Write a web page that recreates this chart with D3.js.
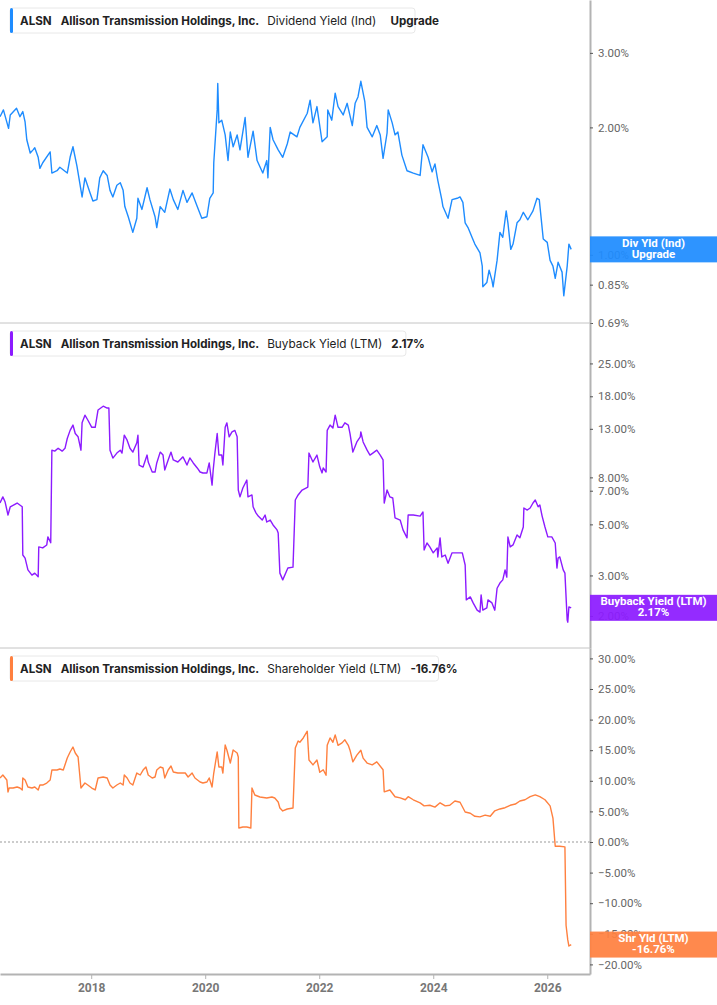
<!DOCTYPE html>
<html>
<head>
<meta charset="utf-8">
<script src="https://cdn.jsdelivr.net/npm/d3@7"></script>
<style>
  body { margin: 0; background: #fff; }
  svg { display: block; font-family: Inter, "Noto Sans", sans-serif; }
</style>
</head>
<body>
<div id="chart"></div>
<script>
// ---- data (date as decimal year, value in %) ----
const ticker = "ALSN";
const company = "Allison Transmission Holdings, Inc.";
const yearTicks = [2018, 2020, 2022, 2024, 2026];
const divTicks = [0.69, 0.85, 1.00, 2.00, 3.00];
const buyTicks = [2, 3, 5, 7, 8, 13, 18, 25];
const shrTicks = [-20, -15, -10, -5, 0, 5, 10, 15, 20, 25, 30];

const divYield = [[2016.40,2.12],[2016.46,2.20],[2016.55,1.99],[2016.58,2.14],[2016.69,2.22],[2016.75,2.12],[2016.80,2.18],[2016.84,2.06],[2016.87,1.87],[2016.93,1.74],[2016.98,1.77],[2017.01,1.79],[2017.07,1.70],[2017.10,1.60],[2017.15,1.65],[2017.28,1.75],[2017.31,1.56],[2017.40,1.58],[2017.45,1.61],[2017.58,1.56],[2017.63,1.70],[2017.68,1.80],[2017.75,1.62],[2017.84,1.37],[2017.89,1.52],[2017.98,1.40],[2018.03,1.34],[2018.10,1.35],[2018.15,1.52],[2018.21,1.58],[2018.28,1.54],[2018.33,1.42],[2018.38,1.37],[2018.45,1.46],[2018.51,1.48],[2018.56,1.42],[2018.59,1.30],[2018.65,1.23],[2018.73,1.13],[2018.80,1.22],[2018.82,1.36],[2018.89,1.28],[2018.98,1.44],[2019.03,1.35],[2019.12,1.23],[2019.15,1.16],[2019.21,1.30],[2019.29,1.26],[2019.38,1.43],[2019.44,1.35],[2019.52,1.28],[2019.61,1.42],[2019.68,1.33],[2019.77,1.40],[2019.86,1.30],[2019.94,1.22],[2020.03,1.23],[2020.08,1.36],[2020.14,1.40],[2020.15,1.65],[2020.21,2.20],[2020.22,2.54],[2020.24,2.05],[2020.29,2.08],[2020.35,1.92],[2020.40,1.67],[2020.44,1.95],[2020.49,1.80],[2020.56,1.92],[2020.61,1.77],[2020.70,2.11],[2020.75,1.70],[2020.84,1.96],[2020.91,1.67],[2021.01,1.56],[2021.08,1.67],[2021.10,1.52],[2021.14,2.00],[2021.19,1.87],[2021.28,1.77],[2021.36,1.70],[2021.44,1.83],[2021.49,1.95],[2021.61,1.90],[2021.66,2.00],[2021.79,2.16],[2021.84,2.32],[2021.89,2.05],[2021.96,2.24],[2022.05,1.85],[2022.14,1.90],[2022.15,2.20],[2022.22,2.08],[2022.28,2.41],[2022.33,2.24],[2022.42,2.14],[2022.49,2.28],[2022.58,2.02],[2022.63,2.28],[2022.68,2.36],[2022.73,2.57],[2022.80,2.30],[2022.84,2.00],[2022.93,1.90],[2023.01,2.02],[2023.07,1.92],[2023.12,1.69],[2023.19,1.94],[2023.21,2.20],[2023.28,2.05],[2023.33,1.92],[2023.38,1.95],[2023.45,1.72],[2023.54,1.58],[2023.65,1.56],[2023.77,1.54],[2023.82,1.82],[2023.91,1.70],[2023.98,1.57],[2024.03,1.64],[2024.08,1.50],[2024.15,1.35],[2024.17,1.30],[2024.26,1.22],[2024.33,1.35],[2024.42,1.36],[2024.47,1.37],[2024.52,1.33],[2024.56,1.19],[2024.61,1.16],[2024.68,1.10],[2024.73,1.06],[2024.82,1.01],[2024.86,0.94],[2024.87,0.84],[2024.94,0.86],[2024.98,0.92],[2025.03,0.87],[2025.05,0.84],[2025.12,0.97],[2025.17,1.13],[2025.22,1.10],[2025.28,1.27],[2025.31,1.19],[2025.36,1.03],[2025.40,1.06],[2025.47,1.19],[2025.52,1.21],[2025.58,1.26],[2025.66,1.21],[2025.75,1.27],[2025.82,1.36],[2025.86,1.35],[2025.93,1.09],[2026.00,1.07],[2026.05,0.97],[2026.10,0.94],[2026.14,0.88],[2026.19,0.96],[2026.26,0.91],[2026.29,0.80],[2026.35,0.94],[2026.38,1.06],[2026.42,1.03]];

const buybackYield = [[2016.40,6.19],[2016.45,6.58],[2016.49,6.25],[2016.54,5.49],[2016.58,5.96],[2016.70,6.19],[2016.79,5.96],[2016.80,3.68],[2016.84,3.57],[2016.89,3.17],[2016.96,3.01],[2017.01,3.07],[2017.07,2.96],[2017.08,3.99],[2017.15,3.95],[2017.22,4.07],[2017.24,4.41],[2017.29,4.16],[2017.31,10.5],[2017.36,10.4],[2017.42,10.7],[2017.49,10.4],[2017.54,10.7],[2017.58,11.8],[2017.63,12.8],[2017.68,13.5],[2017.72,12.4],[2017.77,12.0],[2017.82,10.5],[2017.84,13.8],[2017.89,14.9],[2017.94,14.2],[2018.01,13.2],[2018.07,13.2],[2018.12,15.7],[2018.21,16.3],[2018.28,16.0],[2018.31,16.0],[2018.33,10.5],[2018.38,9.70],[2018.45,10.2],[2018.51,10.5],[2018.54,10.2],[2018.58,12.2],[2018.63,11.6],[2018.68,10.7],[2018.73,10.3],[2018.80,11.3],[2018.82,12.2],[2018.84,9.05],[2018.91,8.87],[2018.98,10.0],[2019.00,9.33],[2019.07,8.44],[2019.12,8.44],[2019.15,9.24],[2019.21,10.3],[2019.26,10.0],[2019.29,8.61],[2019.35,9.52],[2019.40,10.3],[2019.44,9.52],[2019.52,9.33],[2019.59,9.72],[2019.61,9.82],[2019.68,9.05],[2019.73,9.72],[2019.79,9.24],[2019.86,8.79],[2019.91,8.44],[2019.96,8.36],[2020.03,8.36],[2020.07,9.24],[2020.12,7.40],[2020.14,8.61],[2020.17,10.2],[2020.21,12.4],[2020.24,10.0],[2020.29,10.0],[2020.31,9.05],[2020.35,13.2],[2020.38,13.8],[2020.42,12.0],[2020.47,12.6],[2020.52,12.8],[2020.56,12.0],[2020.58,7.05],[2020.61,6.58],[2020.66,7.19],[2020.73,7.79],[2020.75,6.58],[2020.82,6.71],[2020.84,5.96],[2020.89,5.61],[2020.93,5.43],[2021.00,5.22],[2021.05,5.49],[2021.08,5.12],[2021.14,5.22],[2021.19,4.97],[2021.26,4.73],[2021.28,4.59],[2021.31,3.07],[2021.36,2.87],[2021.45,3.23],[2021.54,3.26],[2021.58,6.38],[2021.63,6.71],[2021.70,7.05],[2021.80,7.26],[2021.82,10.2],[2021.89,9.33],[2021.96,10.0],[2022.01,8.87],[2022.05,8.36],[2022.07,8.79],[2022.12,8.44],[2022.14,12.8],[2022.19,13.5],[2022.24,13.1],[2022.28,14.9],[2022.33,13.2],[2022.40,13.2],[2022.45,13.8],[2022.51,13.5],[2022.54,12.4],[2022.59,10.3],[2022.66,11.4],[2022.72,12.0],[2022.73,12.6],[2022.77,11.4],[2022.84,10.5],[2022.89,10.0],[2022.94,10.2],[2023.01,10.5],[2023.07,10.0],[2023.12,9.52],[2023.14,6.19],[2023.19,7.05],[2023.24,6.58],[2023.29,6.51],[2023.33,5.33],[2023.42,5.22],[2023.47,4.73],[2023.54,4.37],[2023.56,5.49],[2023.65,5.49],[2023.77,5.43],[2023.82,5.66],[2023.84,3.87],[2023.89,4.15],[2023.94,3.99],[2024.00,3.76],[2024.07,3.95],[2024.08,3.61],[2024.12,4.37],[2024.15,3.61],[2024.21,3.68],[2024.26,3.39],[2024.33,3.76],[2024.42,3.76],[2024.51,3.76],[2024.56,3.33],[2024.58,2.35],[2024.65,2.42],[2024.70,2.28],[2024.77,2.12],[2024.82,2.08],[2024.84,2.47],[2024.87,2.12],[2024.94,2.17],[2024.96,2.35],[2025.03,2.28],[2025.08,2.12],[2025.12,2.64],[2025.17,2.78],[2025.22,2.87],[2025.26,3.17],[2025.29,2.95],[2025.31,4.41],[2025.35,3.99],[2025.40,4.07],[2025.47,4.50],[2025.52,4.37],[2025.58,4.87],[2025.59,5.89],[2025.65,5.77],[2025.70,5.89],[2025.75,6.19],[2025.79,6.38],[2025.84,5.96],[2025.87,6.07],[2025.91,5.43],[2025.96,4.87],[2026.01,4.41],[2026.08,4.41],[2026.14,4.15],[2026.17,3.23],[2026.19,3.57],[2026.22,3.61],[2026.28,3.17],[2026.31,3.07],[2026.35,1.92],[2026.36,1.88],[2026.38,2.19],[2026.42,2.17]];

const shareholderYield = [[2016.40,10.46],[2016.45,10.95],[2016.52,10.13],[2016.54,8.17],[2016.56,8.82],[2016.63,8.82],[2016.70,8.99],[2016.75,8.82],[2016.79,8.50],[2016.80,10.46],[2016.84,10.13],[2016.89,8.99],[2016.96,8.82],[2017.01,8.99],[2017.07,8.50],[2017.10,9.31],[2017.15,9.31],[2017.22,9.64],[2017.28,10.13],[2017.31,11.76],[2017.40,11.76],[2017.45,11.93],[2017.51,11.76],[2017.58,13.73],[2017.63,14.71],[2017.68,15.52],[2017.72,14.54],[2017.77,13.89],[2017.82,8.82],[2017.89,9.64],[2017.94,9.31],[2018.01,8.82],[2018.07,8.50],[2018.12,10.46],[2018.21,10.62],[2018.28,10.46],[2018.33,9.31],[2018.38,8.82],[2018.45,9.31],[2018.51,9.64],[2018.56,9.31],[2018.58,10.95],[2018.63,10.46],[2018.68,9.64],[2018.73,9.31],[2018.80,11.27],[2018.86,10.95],[2018.91,11.76],[2018.96,12.25],[2019.00,10.95],[2019.07,10.46],[2019.12,10.62],[2019.15,11.76],[2019.21,12.25],[2019.26,12.09],[2019.29,10.46],[2019.35,11.76],[2019.40,12.42],[2019.44,11.44],[2019.52,11.27],[2019.59,11.27],[2019.65,11.27],[2019.70,10.62],[2019.77,11.27],[2019.82,10.46],[2019.91,9.80],[2019.96,9.64],[2020.03,9.80],[2020.07,10.46],[2020.12,8.99],[2020.15,11.27],[2020.21,14.71],[2020.24,12.25],[2020.29,12.25],[2020.31,11.27],[2020.35,15.85],[2020.38,15.03],[2020.44,12.91],[2020.49,15.03],[2020.56,14.54],[2020.58,13.89],[2020.59,2.29],[2020.66,2.45],[2020.73,2.45],[2020.80,2.29],[2020.82,8.82],[2020.87,7.68],[2020.96,7.35],[2021.08,7.19],[2021.17,7.35],[2021.22,7.19],[2021.28,6.54],[2021.31,5.56],[2021.36,5.07],[2021.44,5.39],[2021.54,5.56],[2021.58,15.36],[2021.63,16.50],[2021.66,16.3],[2021.72,17.0],[2021.79,18.1],[2021.82,13.4],[2021.89,12.6],[2021.96,13.4],[2022.01,11.4],[2022.07,11.8],[2022.12,10.9],[2022.14,15.8],[2022.19,17.0],[2022.24,16.3],[2022.28,17.5],[2022.33,15.8],[2022.40,16.2],[2022.45,16.7],[2022.51,15.8],[2022.54,15.0],[2022.59,13.1],[2022.66,14.2],[2022.73,15.0],[2022.77,13.7],[2022.84,12.9],[2022.93,12.6],[2023.01,13.1],[2023.12,11.8],[2023.14,8.2],[2023.24,8.5],[2023.33,7.4],[2023.42,7.2],[2023.51,6.9],[2023.56,7.4],[2023.65,6.9],[2023.77,6.4],[2023.84,5.9],[2023.94,6.0],[2024.03,5.7],[2024.12,6.4],[2024.21,5.9],[2024.29,6.0],[2024.38,6.7],[2024.47,6.5],[2024.56,4.9],[2024.65,4.7],[2024.73,4.2],[2024.82,4.1],[2024.91,4.4],[2025.00,4.2],[2025.08,5.1],[2025.17,5.4],[2025.26,5.6],[2025.35,6.0],[2025.44,6.2],[2025.52,6.7],[2025.61,6.9],[2025.70,7.4],[2025.79,7.7],[2025.87,7.4],[2025.96,6.9],[2026.05,5.9],[2026.10,3.9],[2026.14,-0.7],[2026.22,-0.7],[2026.31,-0.8],[2026.33,-13.6],[2026.36,-16.0],[2026.38,-17.0],[2026.42,-16.76]];

// ---- layout ----
const width = 717, height = 1005;
const plotRight = 590;
const bottom = 974;

const svg = d3.select("#chart").append("svg")
    .attr("width", width)
    .attr("height", height);

const x = d3.scaleLinear()
    .domain([2016.40, 2026.75])
    .range([0, plotRight]);

const fmtPct = d => d3.format(".2f")(d) + "%";

// one entry per stacked panel
const panels = [
    {top: 0, bottom: 323, y: d3.scaleLog().domain([0.69, 4.0]), data: divYield, ticks: divTicks,
     color: "#1e8cff", metric: "Dividend Yield (Ind)", value: "Upgrade", valueGap: 14,
     tag: ["Div Yld (Ind)", "Upgrade"], zero: false},
    {top: 323, bottom: 648, y: d3.scaleLog().domain([1.452, 37.46]), data: buybackYield, ticks: buyTicks,
     color: "#8c1bff", metric: "Buyback Yield (LTM)", value: "2.17%", valueGap: 9,
     tag: ["Buyback Yield (LTM)", "2.17%"], zero: false},
    {top: 648, bottom: 974, y: d3.scaleLinear().domain([-21.57, 31.70]), data: shareholderYield, ticks: shrTicks,
     color: "#ff803f", metric: "Shareholder Yield (LTM)", value: "-16.76%", valueGap: 9,
     tag: ["Shr Yld (LTM)", "-16.76%"], zero: true}
];

panels.forEach((p, i) => {
    p.y.range([p.bottom, p.top]);
    let g = svg.append("g");

    // separator between panels
    if (i > 0) {
        g.append("line")
            .attr("x1", 0).attr("x2", plotRight)
            .attr("y1", p.top).attr("y2", p.top)
            .attr("stroke", "#c4c4c4").attr("stroke-width", 1);
    }

    // zero reference line
    if (p.zero) {
        g.append("line")
            .attr("x1", 0).attr("x2", plotRight)
            .attr("y1", p.y(0)).attr("y2", p.y(0))
            .attr("stroke", "#999").attr("stroke-width", 1.2)
            .attr("stroke-dasharray", "2,2");
    }

    // series line
    let line = d3.line()
        .x(d => x(d[0]))
        .y(d => p.y(d[1]));
    g.append("path")
        .datum(p.data)
        .attr("fill", "none")
        .attr("stroke", p.color)
        .attr("stroke-width", 1.4)
        .attr("stroke-linejoin", "round")
        .attr("d", line);

    // right axis
    let axis = g.append("g")
        .attr("transform", `translate(${plotRight},0)`)
        .call(d3.axisRight(p.y).tickValues(p.ticks).tickFormat(fmtPct).tickSize(3).tickSizeOuter(0).tickPadding(5));
    axis.select(".domain").attr("stroke", "#b3b3b3").attr("stroke-width", 2);
    axis.selectAll(".tick line").attr("stroke", "#555");
    axis.selectAll(".tick text")
        .attr("fill", "#666")
        .style("font-family", "Roboto, sans-serif")
        .style("font-size", "11.5px");

    // legend box
    let lg = g.append("g").attr("transform", `translate(10,${p.top + 8})`);
    let box = lg.append("rect")
        .attr("height", 25).attr("rx", 3)
        .attr("fill", "#fff").attr("stroke", "#e8e8e8");
    let txt = lg.append("text")
        .attr("x", 10).attr("y", 17)
        .attr("fill", "#222");
    txt.append("tspan").attr("font-weight", "bold").style("font-size", "11.6px").text(ticker);
    txt.append("tspan").attr("dx", 9).attr("font-weight", "bold").style("font-size", "11.6px").text(company);
    txt.append("tspan").attr("dx", 8).style("font-size", "11.8px").text(p.metric);
    txt.append("tspan").attr("dx", p.valueGap).attr("font-weight", "bold").style("font-size", "11.6px").text(p.value);
    let w = txt.node().getComputedTextLength() + 10 + 7;
    box.attr("width", w);
    lg.append("rect")
        .attr("width", 3).attr("height", 25).attr("rx", 1.5)
        .attr("fill", p.color);

    // end-of-series tag on the axis (tick text shows faintly through it)
    let last = p.data[p.data.length - 1];
    let cy = p.y(last[1]);
    let tag = g.append("g");
    tag.append("rect")
        .attr("x", plotRight).attr("y", cy - 13)
        .attr("width", width - plotRight).attr("height", 26)
        .attr("fill", p.color)
        .attr("fill-opacity", 0.93);
    tag.selectAll("text")
        .data(p.tag)
        .join("text")
        .attr("x", plotRight + (width - plotRight) / 2)
        .attr("y", (d, j) => cy - 2.5 + j * 11)
        .attr("text-anchor", "middle")
        .attr("fill", "#fff")
        .attr("font-weight", "bold")
        .style("font-family", "Roboto, sans-serif")
        .style("font-size", "11.5px")
        .text(d => d);
});

// bottom time axis
let xAxis = svg.append("g")
    .attr("transform", `translate(0,${bottom})`)
    .call(d3.axisBottom(x).tickValues(yearTicks).tickFormat(d3.format("d")).tickSize(5).tickSizeOuter(0).tickPadding(4));
xAxis.select(".domain").attr("stroke", "#b3b3b3").attr("stroke-width", 2);
xAxis.selectAll(".tick line").attr("stroke", "#b3b3b3");
xAxis.selectAll(".tick text")
    .attr("fill", "#777")
    .attr("font-weight", "bold")
    .style("font-family", "Roboto, sans-serif")
    .style("font-size", "12px");
</script>
</body>
</html>
